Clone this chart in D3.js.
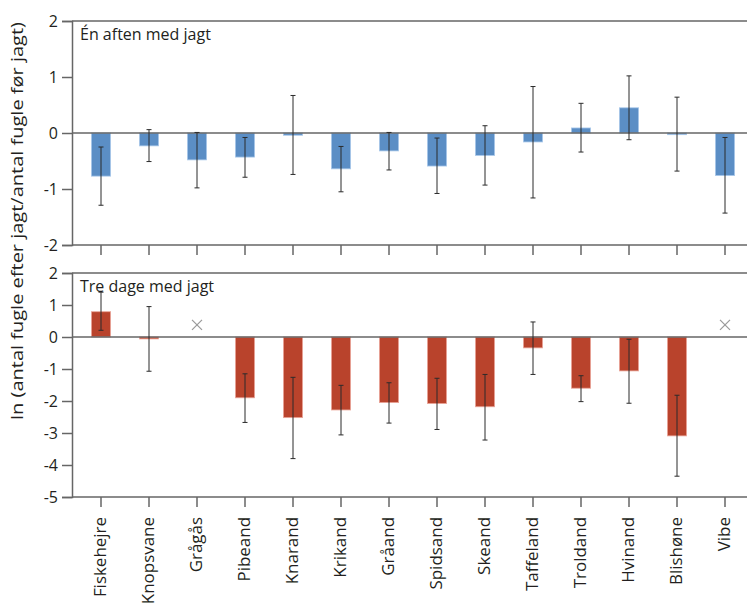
<!DOCTYPE html>
<html>
<head>
<meta charset="utf-8">
<script src="https://cdn.jsdelivr.net/npm/d3@7"></script>
<style>
  html, body { margin: 0; padding: 0; background: #fff; }
  text { font-family: "Open Sans", "Noto Sans", sans-serif; fill: #231f20; }
</style>
</head>
<body>
<svg id="chart" width="747" height="604"></svg>
<script>
const categories = ["Fiskehejre","Knopsvane","Grågås","Pibeand","Knarand","Krikand","Gråand","Spidsand","Skeand","Taffeland","Troldand","Hvinand","Blishøne","Vibe"];

// Panel 1: "Én aften med jagt"
const topValues  = [-0.77,-0.23,-0.48,-0.43,-0.04,-0.64,-0.32,-0.59,-0.40,-0.16, 0.09, 0.45,-0.03,-0.76];
const topErrHigh = [-0.25, 0.06, 0.01,-0.08, 0.67,-0.24, 0.01,-0.09, 0.13, 0.83, 0.53, 1.02, 0.64,-0.08];
const topErrLow  = [-1.29,-0.51,-0.98,-0.79,-0.74,-1.05,-0.66,-1.08,-0.93,-1.16,-0.34,-0.12,-0.68,-1.43];

// Panel 2: "Tre dage med jagt" (null = no estimate, shown with a cross)
const bottomValues  = [0.79,-0.06,null,-1.90,-2.52,-2.28,-2.05,-2.08,-2.18,-0.34,-1.60,-1.06,-3.09,null];
const bottomErrHigh = [1.40, 0.95,null,-1.15,-1.26,-1.51,-1.43,-1.29,-1.17, 0.47,-1.21,-0.07,-1.82,null];
const bottomErrLow  = [0.21,-1.07,null,-2.67,-3.80,-3.06,-2.69,-2.89,-3.22,-1.17,-2.02,-2.07,-4.35,null];
const bottomMissing = [null,null,0.38,null,null,null,null,null,null,null,null,null,null,0.38];

const topTicks = [2,1,0,-1,-2];
const bottomTicks = [2,1,0,-1,-2,-3,-4,-5];

const panelTitles = ["Én aften med jagt", "Tre dage med jagt"];
const yTitle = "ln (antal fugle efter jagt/antal fugle før jagt)";

const svg = d3.select("#chart");
const axisColor = "#666";
const left = 72, right = 747;
const labelStretch = 1.06;

const x = d3.scaleBand().domain(categories).range([62.6, 763.4]).paddingInner(0.6).paddingOuter(0.6);
const barW = x.bandwidth();

const panels = [
  { yDomain: [-2, 2], yRange: [245, 21], ticks: topTicks, vals: topValues, hi: topErrHigh, lo: topErrLow, miss: null,
    fill: "#5b8ec5", edge: "#a9c8ea", title: panelTitles[0], labels: false },
  { yDomain: [-5, 2], yRange: [497, 273], ticks: bottomTicks, vals: bottomValues, hi: bottomErrHigh, lo: bottomErrLow, miss: bottomMissing,
    fill: "#b9432c", edge: "#eaa69a", title: panelTitles[1], labels: true }
];

panels.forEach(p => {
  const y = d3.scaleLinear().domain(p.yDomain).range(p.yRange);
  const g = svg.append("g");

  const data = categories.map((c, i) => ({ c, v: p.vals[i], hi: p.hi[i], lo: p.lo[i], m: p.miss ? p.miss[i] : null }));
  g.selectAll("rect.bar").data(data.filter(d => d.v !== null)).join("rect")
    .attr("x", d => x(d.c))
    .attr("width", barW)
    .attr("y", d => Math.min(y(d.v), y(0)))
    .attr("height", d => Math.abs(y(d.v) - y(0)))
    .attr("fill", p.fill)
    .attr("stroke", p.edge)
    .attr("stroke-width", 0.8);

  g.append("line").attr("x1", left).attr("x2", right).attr("y1", y(0)).attr("y2", y(0))
    .attr("stroke", axisColor).attr("stroke-width", 1.5);

  g.append("line").attr("x1", left).attr("x2", right).attr("y1", y(p.yDomain[1])).attr("y2", y(p.yDomain[1]))
    .attr("stroke", axisColor).attr("stroke-width", 1.5);

  const eb = g.selectAll("g.err").data(data.filter(d => d.v !== null)).join("g")
    .attr("transform", d => `translate(${x(d.c) + barW / 2},0)`)
    .attr("stroke", "#2b2b2b").attr("stroke-width", 1);
  eb.append("line").attr("x1", 0).attr("x2", 0).attr("y1", d => y(d.hi)).attr("y2", d => y(d.lo));
  eb.append("line").attr("x1", -2.5).attr("x2", 2.5).attr("y1", d => y(d.hi)).attr("y2", d => y(d.hi));
  eb.append("line").attr("x1", -2.5).attr("x2", 2.5).attr("y1", d => y(d.lo)).attr("y2", d => y(d.lo));

  const mk = g.selectAll("g.miss").data(data.filter(d => d.m !== null)).join("g")
    .attr("transform", d => `translate(${x(d.c) + barW / 2},${y(d.m)})`)
    .attr("stroke", "#9a9a9a").attr("stroke-width", 1.2);
  mk.append("line").attr("x1", -5).attr("x2", 5).attr("y1", -5).attr("y2", 5);
  mk.append("line").attr("x1", -5).attr("x2", 5).attr("y1", 5).attr("y2", -5);

  const ya = g.append("g").attr("transform", `translate(${left},0)`)
    .call(d3.axisLeft(y).tickValues(p.ticks).tickSize(10).tickPadding(4).tickFormat(d => d < 0 ? "-" + Math.abs(d) : String(d)));
  ya.select(".domain").attr("stroke", axisColor).attr("stroke-width", 1.5);
  ya.selectAll(".tick line").attr("stroke", axisColor).attr("stroke-width", 1.5);
  ya.selectAll("text").attr("font-size", 16).attr("font-family", '"Open Sans", sans-serif').attr("fill", "#231f20");

  const xa = g.append("g").attr("transform", `translate(0,${y(p.yDomain[0])})`)
    .call(d3.axisBottom(x).tickSize(10).tickSizeOuter(0));
  xa.select(".domain").remove();
  xa.selectAll(".tick line").attr("stroke", axisColor).attr("stroke-width", 1.5);
  if (p.labels) {
    xa.selectAll("text")
      .attr("font-size", 16).attr("font-family", '"Open Sans", sans-serif').attr("fill", "#231f20")
      .attr("transform", `rotate(-90) scale(${labelStretch},1)`)
      .attr("x", -20 / labelStretch).attr("y", -1).attr("dy", "0.35em")
      .attr("text-anchor", "end");
  } else {
    xa.selectAll("text").remove();
  }
  g.append("line").attr("x1", left).attr("x2", right).attr("y1", y(p.yDomain[0])).attr("y2", y(p.yDomain[0]))
    .attr("stroke", axisColor).attr("stroke-width", 1.5);

  g.append("text").attr("x", 80).attr("y", y(p.yDomain[1]) + 19)
    .attr("font-size", 16).text(p.title);
});

svg.append("text")
  .attr("transform", "translate(23,221) rotate(-90)")
  .attr("text-anchor", "middle")
  .attr("font-size", 17)
  .attr("textLength", 398)
  .attr("lengthAdjust", "spacingAndGlyphs")
  .text(yTitle);
</script>
</body>
</html>
